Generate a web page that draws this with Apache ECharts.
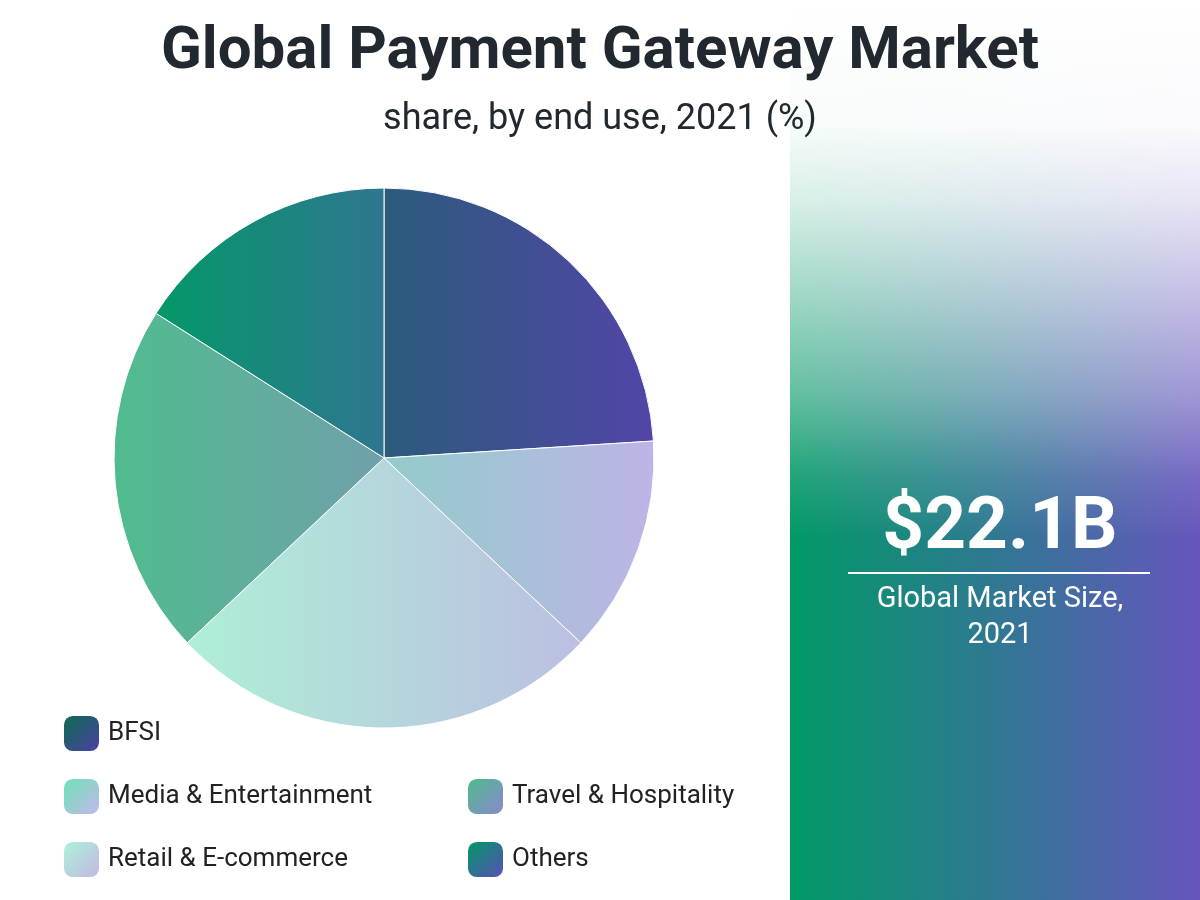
<!DOCTYPE html>
<html><head><meta charset="utf-8">
<script src="https://cdn.jsdelivr.net/npm/echarts@6/dist/echarts.min.js"></script>
<style>html,body{margin:0;padding:0;background:#fff}#c{width:1200px;height:900px}</style>
</head><body><div id="c"></div>
<script>
const categories = ['BFSI', 'Media & Entertainment', 'Retail & E-commerce', 'Travel & Hospitality', 'Others'];
const shares = [24, 13, 26, 21, 16];
const sliceColors = [
  ['#2b5b7b', '#5245a8'],
  ['#92cccb', '#bdb4e6'],
  ['#aeefd6', '#bcbfe2'],
  ['#50bc8e', '#70a0ab'],
  ['#039868', '#2f7690']
];
const legendColors = [
  ['#0c6b50', '#4c3fa6'],
  ['#6ee2b8', '#c2b8ea'],
  ['#aef2d8', '#c0b8e4'],
  ['#4dbb8e', '#8c88cc'],
  ['#009966', '#5a4fb8']
];
const marketSize = '$22.1B';
const marketLabel = 'Global Market Size,\n2021';

function grad(c, diag) {
  return new echarts.graphic.LinearGradient(0, 0, 1, diag ? 1 : 0, [{offset: 0, color: c[0]}, {offset: 1, color: c[1]}]);
}

const chart = echarts.init(document.getElementById('c'), null, {renderer: 'canvas'});
const legendItem = (i) => ({name: categories[i], icon: 'roundRect', itemStyle: {color: grad(legendColors[i], true), borderWidth: 0}});
const legendBase = {
  orient: 'vertical', itemWidth: 35, itemHeight: 35, itemGap: 28, selectedMode: false, padding: 0,
  textStyle: {fontFamily: 'Roboto', fontSize: 26, color: '#222', padding: [0, 0, 0, 4]}
};
chart.setOption({
  animation: false,
  backgroundColor: '#fff',
  graphic: [
    {type: 'rect', z: -10, shape: {x: 790, y: 0, width: 410, height: 900},
      style: {fill: new echarts.graphic.LinearGradient(0, 0, 1, 0, [{offset: 0, color: '#009966'}, {offset: 0.5, color: '#2f7892'}, {offset: 1, color: '#6655bd'}])}},
    {type: 'rect', z: -9, shape: {x: 790, y: 0, width: 410, height: 900},
      style: {fill: new echarts.graphic.LinearGradient(0, 0, 0, 1, [
        {offset: 0, color: 'rgba(255,255,255,1)'},
        {offset: 0.14, color: 'rgba(255,255,255,0.97)'},
        {offset: 0.22, color: 'rgba(255,255,255,0.85)'},
        {offset: 0.33, color: 'rgba(255,255,255,0.62)'},
        {offset: 0.44, color: 'rgba(255,255,255,0.38)'},
        {offset: 0.53, color: 'rgba(255,255,255,0.12)'},
        {offset: 0.6, color: 'rgba(255,255,255,0)'},
        {offset: 1, color: 'rgba(255,255,255,0)'}])}},
    {type: 'text', z: 10, style: {x: 1000, y: 530, text: marketSize, fill: '#fff', fontFamily: 'Roboto', fontWeight: 'bold', fontSize: 73, textAlign: 'center', textVerticalAlign: 'middle'}},
    {type: 'line', z: 10, shape: {x1: 848, y1: 573, x2: 1150, y2: 573}, style: {stroke: '#fff', lineWidth: 2}},
    {type: 'text', z: 10, style: {x: 1000, y: 582, text: marketLabel, fill: '#fff', fontFamily: 'Roboto', fontSize: 29, lineHeight: 36, textAlign: 'center', textVerticalAlign: 'top'}}
  ],
  title: {
    text: 'Global Payment Gateway Market', subtext: 'share, by end use, 2021 (%)',
    left: 'center', top: 18, itemGap: 19,
    textStyle: {fontFamily: 'Roboto', fontWeight: 'bold', fontSize: 60, color: '#22282f'},
    subtextStyle: {fontFamily: 'Roboto', fontSize: 36, color: '#22282f'}
  },
  legend: [
    Object.assign({left: 64, top: 716, data: [0, 1, 2].map(legendItem)}, legendBase),
    Object.assign({left: 468, top: 779, data: [3, 4].map(legendItem)}, legendBase)
  ],
  series: [{
    type: 'pie', center: [384, 458], radius: 270, startAngle: 90, clockwise: true,
    label: {show: false}, labelLine: {show: false}, silent: true,
    itemStyle: {borderColor: '#fff', borderWidth: 1},
    data: categories.map((n, i) => ({name: n, value: shares[i], itemStyle: {color: grad(sliceColors[i], false)}}))
  }]
});
</script></body></html>
